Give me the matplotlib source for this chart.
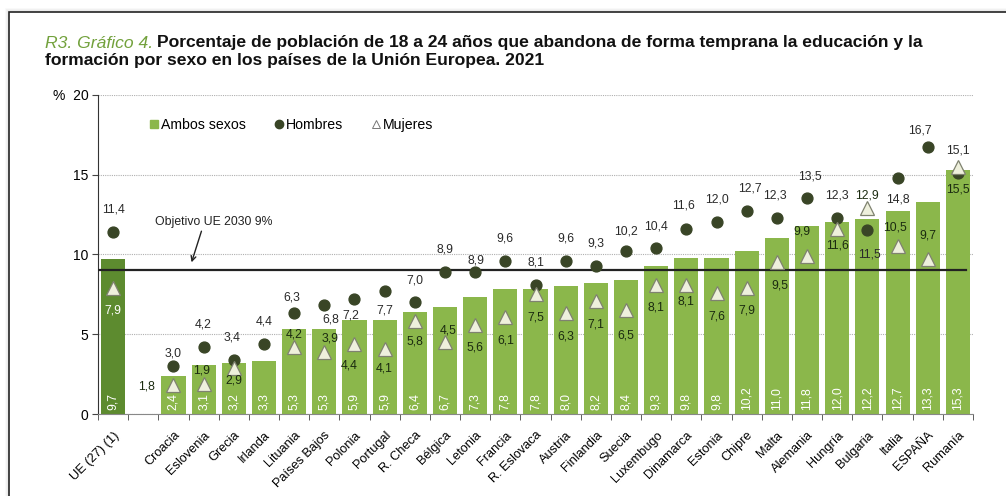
import numpy as np
import matplotlib
matplotlib.use('Agg')
import matplotlib.pyplot as plt
from matplotlib.lines import Line2D
from matplotlib.patches import Rectangle
from matplotlib import font_manager

# datos (% de 18 a 24 años que abandona la educación), 2021
paises = ['UE (27) (1)', 'Croacia', 'Eslovenia', 'Grecia', 'Irlanda', 'Lituania',
          'Países Bajos', 'Polonia', 'Portugal', 'R. Checa', 'Bélgica', 'Letonia',
          'Francia', 'R. Eslovaca', 'Austria', 'Finlandia', 'Suecia', 'Luxembugo',
          'Dinamarca', 'Estonia', 'Chipre', 'Malta', 'Alemania', 'Hungría',
          'Bulgaria', 'Italia', 'ESPAÑA', 'Rumanía']
ambos = [9.7, 2.4, 3.1, 3.2, 3.3, 5.3, 5.3, 5.9, 5.9, 6.4, 6.7, 7.3, 7.8, 7.8,
         8.0, 8.2, 8.4, 9.3, 9.8, 9.8, 10.2, 11.0, 11.8, 12.0, 12.2, 12.7, 13.3, 15.3]
hombres = [11.4, 3.0, 4.2, 3.4, 4.4, 6.3, 6.8, 7.2, 7.7, 7.0, 8.9, 8.9, 9.6, 8.1,
           9.6, 9.3, 10.2, 10.4, 11.6, 12.0, 12.7, 12.3, 13.5, 12.3, 11.5, 14.8, 16.7, 15.1]
mujeres = [7.9, 1.8, 1.9, 2.9, np.nan, 4.2, 3.9, 4.4, 4.1, 5.8, 4.5, 5.6, 6.1, 7.5,
           6.3, 7.1, 6.5, 8.1, 8.1, 7.6, 7.9, 9.5, 9.9, 11.6, 12.9, 10.5, 9.7, 15.5]
objetivo = 9

# desplazamiento de las etiquetas (pixeles)
off_h = [(0, 22), (0, 13), (0, 22), (-2, 22), (0, 22), (-2, 16), (7, -14), (-4, -16),
         (0, -19), (0, 22), (0, 22), (1, 11), (0, 22), (0, 22), (0, 22), (0, 22),
         (0, 20), (0, 21), (-3, 23), (0, 23), (3, 23), (-2, 22), (3, 22), (0, 22),
         (2, -24), (0, -22), (-8, 17), (0, 22)]
off_m = [(0, -23), (-27, -1), (-2, 13), (0, -13), (0, 0), (0, 12), (6, 13), (-5, -22),
         (0, -20), (0, -20), (3, 12), (0, -23), (0, -24), (0, -23), (0, -23), (0, -24),
         (0, -25), (0, -23), (0, -17), (0, -24), (0, -23), (3, -23), (-5, 24), (0, -17),
         (0, 13), (-3, 19), (0, 24), (0, -23)]


def pick(names):
    for n in names:
        try:
            font_manager.findfont(font_manager.FontProperties(family=n), fallback_to_default=False)
            return n
        except Exception:
            pass
    return 'DejaVu Sans'


narrow = pick(['Liberation Sans Narrow', 'Arial Narrow'])
has_narrow = narrow != 'DejaVu Sans'
base = narrow if has_narrow else pick(['Liberation Sans', 'Arimo'])
plt.rcParams['font.family'] = [base, 'DejaVu Sans']

verde = '#8bb74b'
verde_ue = '#5d8b2f'
oscuro = '#394526'

fig = plt.figure(figsize=(10.06, 4.96), dpi=100)
ax = fig.add_axes([98 / 1006, 1 - 414 / 496, 875 / 1006, 319.3 / 496])

x = np.array([0] + list(range(2, len(paises) + 1)))
cols = [verde_ue] + [verde] * (len(paises) - 1)
ax.bar(x, ambos, width=0.8, color=cols, zorder=2)
ax.plot(x, hombres, 'o', color=oscuro, ms=7.8, zorder=4, ls='none')
ax.plot(x, mujeres, '^', mfc='#eef0dc', mec='#7f8270', mew=0.9, ms=9.5, zorder=5, ls='none')
ax.plot([-0.5, 28.27], [objetivo, objetivo], color='#222222', lw=1.6, zorder=3)

fs = 9.3 if has_narrow else 8.8
for i in range(len(paises)):
    ax.text(x[i], 0.25, f'{ambos[i]:.1f}'.replace('.', ','), rotation=90, color='white',
            ha='center', va='bottom', fontsize=fs, zorder=6)
    ax.annotate(f'{hombres[i]:.1f}'.replace('.', ','), (x[i], hombres[i]), xytext=off_h[i],
                textcoords='offset pixels', ha='center', va='center', fontsize=fs,
                color='#2a2a2a', zorder=6)
    if not np.isnan(mujeres[i]):
        ax.annotate(f'{mujeres[i]:.1f}'.replace('.', ','), (x[i], mujeres[i]), xytext=off_m[i],
                    textcoords='offset pixels', ha='center', va='center', fontsize=fs,
                    color='white' if i == 0 else '#1b2b10', zorder=6)

ax.annotate('Objetivo UE 2030 9%', xy=(2.6, 9.5), xytext=(1.4, 12.0), fontsize=fs,
            ha='left', va='center', color='#222222',
            arrowprops=dict(arrowstyle='->', color='#222222', lw=1.0,
                            shrinkA=0, shrinkB=0, relpos=(0.4, 0.0)))

ax.set_xlim(-0.5, 28.5)
ax.set_ylim(0, 20)
ax.set_yticks([0, 5, 10, 15, 20])
ax.set_yticklabels(['0', '5', '10', '15', '%  20'], fontsize=10.5 if has_narrow else 10)
ax.yaxis.grid(True, ls=(0, (1, 1)), color='#b0b0b0', lw=0.8, zorder=0)
ax.set_xticks(x)
ax.set_xticklabels(paises, rotation=45, ha='right', rotation_mode='anchor',
                   fontsize=9.8 if has_narrow else 9.2)
ax.tick_params(axis='x', length=0, pad=11)
ax.set_xticks(np.arange(-0.5, 29, 1), minor=True)
ax.tick_params(axis='x', which='minor', length=4, color='#444444')
ax.tick_params(axis='y', length=4, color='#444444', pad=3)
for s in ['top', 'right']:
    ax.spines[s].set_visible(False)
ax.spines['left'].set_color('#333333')
ax.spines['bottom'].set_color('#888888')

handles = [Line2D([], [], marker='s', color=verde, ls='none', ms=6),
           Line2D([], [], marker='o', color=oscuro, ls='none', ms=6),
           Line2D([], [], marker='^', mfc='white', mec='#777777', ls='none', ms=6, mew=0.7)]
ax.legend(handles, ['Ambos sexos', 'Hombres', 'Mujeres'], loc='center left',
          bbox_to_anchor=(0.045, 0.905), ncol=3, frameon=False,
          fontsize=10.8 if has_narrow else 10.2,
          handlelength=0.6, handletextpad=0.2, columnspacing=2.0)

# marco con sombra
for j, a in enumerate([0.05, 0.08, 0.12]):
    fig.patches.append(Rectangle((9 - 3 + j, -20), 1100, 496 - 12 + 20 + 3 - j,
                                 transform=None, fill=False, ec='#888888', lw=1.2, alpha=a))
fig.patches.append(Rectangle((9, -20), 1100, 496 - 12 + 20, transform=None,
                             fill=False, ec='#222222', lw=1.2))

# titulo
r = fig.canvas.get_renderer()
tfs = 13.5 if has_narrow else 12.6
t1 = fig.text(45 / 1006, 1 - 47.5 / 496, 'R3. Gráfico 4.', fontsize=tfs, style='italic',
              color='#72a13c', va='baseline', ha='left')
bb = t1.get_window_extent(r)
fig.text((bb.x1 + 4) / 1006, 1 - 47.5 / 496,
         'Porcentaje de población de 18 a 24 años que abandona de forma temprana la educación y la',
         fontsize=tfs, weight='bold', color='#111111', va='baseline', ha='left')
fig.text(45 / 1006, 1 - 64.5 / 496,
         'formación por sexo en los países de la Unión Europea. 2021',
         fontsize=tfs, weight='bold', color='#111111', va='baseline', ha='left')

fig.savefig('out.png', dpi=100)
